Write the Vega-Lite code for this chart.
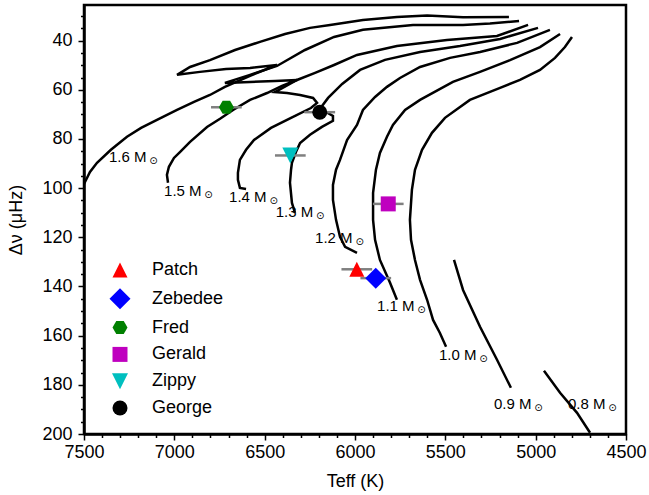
{
  "$schema": "https://vega.github.io/schema/vega-lite/v6.json",
  "width": 542,
  "height": 429,
  "autosize": "none",
  "padding": {"left": 84, "top": 5, "right": 23, "bottom": 61},
  "config": {
    "font": "Liberation Sans",
    "view": {"stroke": "black", "strokeWidth": 2.5}
  },
  "datasets": {
    "tracks": [
      {"m":"1.6","i":0,"T":7500,"v":98.3},{"m":"1.6","i":1,"T":7467,"v":93.4},{"m":"1.6","i":2,"T":7428,"v":89.7},{"m":"1.6","i":3,"T":7351,"v":84.4},{"m":"1.6","i":4,"T":7262,"v":79.1},{"m":"1.6","i":5,"T":7184,"v":75.5},{"m":"1.6","i":6,"T":7096,"v":72.2},{"m":"1.6","i":7,"T":6985,"v":68.2},{"m":"1.6","i":8,"T":6891,"v":64.9},{"m":"1.6","i":9,"T":6803,"v":62.1},{"m":"1.6","i":10,"T":6720,"v":58.8},{"m":"1.6","i":11,"T":6581,"v":54.3},{"m":"1.6","i":12,"T":6432,"v":49.9},{"m":"1.6","i":13,"T":6581,"v":51.1},{"m":"1.6","i":14,"T":6714,"v":51.5},{"m":"1.6","i":15,"T":6858,"v":52.7},{"m":"1.6","i":16,"T":6985,"v":53.9},{"m":"1.6","i":17,"T":6913,"v":50.7},{"m":"1.6","i":18,"T":6803,"v":47.9},{"m":"1.6","i":19,"T":6664,"v":43.8},{"m":"1.6","i":20,"T":6526,"v":40.5},{"m":"1.6","i":21,"T":6387,"v":37.3},{"m":"1.6","i":22,"T":6249,"v":34.8},{"m":"1.6","i":23,"T":6138,"v":33.6},{"m":"1.6","i":24,"T":5956,"v":31.6},{"m":"1.6","i":25,"T":5768,"v":30.4},{"m":"1.6","i":26,"T":5601,"v":29.8},{"m":"1.6","i":27,"T":5402,"v":30.5},{"m":"1.6","i":28,"T":5148,"v":30.4},
      {"m":"1.5","i":0,"T":7035,"v":97.8},{"m":"1.5","i":1,"T":7041,"v":94.6},{"m":"1.5","i":2,"T":7030,"v":91.3},{"m":"1.5","i":3,"T":7002,"v":87.7},{"m":"1.5","i":4,"T":6969,"v":85.3},{"m":"1.5","i":5,"T":6913,"v":81.2},{"m":"1.5","i":6,"T":6819,"v":75.1},{"m":"1.5","i":7,"T":6747,"v":71.8},{"m":"1.5","i":8,"T":6675,"v":68.2},{"m":"1.5","i":9,"T":6581,"v":64.1},{"m":"1.5","i":10,"T":6487,"v":61.3},{"m":"1.5","i":11,"T":6404,"v":58.4},{"m":"1.5","i":12,"T":6321,"v":56.0},{"m":"1.5","i":13,"T":6443,"v":56.4},{"m":"1.5","i":14,"T":6581,"v":56.8},{"m":"1.5","i":15,"T":6720,"v":57.2},{"m":"1.5","i":16,"T":6581,"v":53.9},{"m":"1.5","i":17,"T":6432,"v":50.3},{"m":"1.5","i":18,"T":6277,"v":43.8},{"m":"1.5","i":19,"T":6116,"v":38.5},{"m":"1.5","i":20,"T":5956,"v":35.6},{"m":"1.5","i":21,"T":5679,"v":33.6},{"m":"1.5","i":22,"T":5402,"v":33.6},{"m":"1.5","i":23,"T":5253,"v":33.0},{"m":"1.5","i":24,"T":5092,"v":32.0},
      {"m":"1.4","i":0,"T":6603,"v":100.3},{"m":"1.4","i":1,"T":6637,"v":99.9},{"m":"1.4","i":2,"T":6648,"v":96.6},{"m":"1.4","i":3,"T":6648,"v":93.8},{"m":"1.4","i":4,"T":6637,"v":88.5},{"m":"1.4","i":5,"T":6603,"v":84.4},{"m":"1.4","i":6,"T":6559,"v":80.4},{"m":"1.4","i":7,"T":6465,"v":75.5},{"m":"1.4","i":8,"T":6354,"v":71.4},{"m":"1.4","i":9,"T":6244,"v":67.4},{"m":"1.4","i":10,"T":6210,"v":65.3},{"m":"1.4","i":11,"T":6232,"v":63.3},{"m":"1.4","i":12,"T":6304,"v":62.1},{"m":"1.4","i":13,"T":6376,"v":61.3},{"m":"1.4","i":14,"T":6443,"v":60.9},{"m":"1.4","i":15,"T":6321,"v":56.0},{"m":"1.4","i":16,"T":6221,"v":53.1},{"m":"1.4","i":17,"T":6116,"v":49.9},{"m":"1.4","i":18,"T":5989,"v":45.8},{"m":"1.4","i":19,"T":5768,"v":42.2},{"m":"1.4","i":20,"T":5491,"v":39.7},{"m":"1.4","i":21,"T":5214,"v":38.1},{"m":"1.4","i":22,"T":5042,"v":33.6},
      {"m":"1.3","i":0,"T":6332,"v":110.1},{"m":"1.3","i":1,"T":6349,"v":106.0},{"m":"1.3","i":2,"T":6360,"v":97.8},{"m":"1.3","i":3,"T":6354,"v":92.5},{"m":"1.3","i":4,"T":6349,"v":89.7},{"m":"1.3","i":5,"T":6327,"v":85.3},{"m":"1.3","i":6,"T":6304,"v":81.6},{"m":"1.3","i":7,"T":6249,"v":78.3},{"m":"1.3","i":8,"T":6183,"v":75.1},{"m":"1.3","i":9,"T":6122,"v":72.6},{"m":"1.3","i":10,"T":6122,"v":70.6},{"m":"1.3","i":11,"T":6161,"v":69.0},{"m":"1.3","i":12,"T":6199,"v":68.2},{"m":"1.3","i":13,"T":6149,"v":63.3},{"m":"1.3","i":14,"T":6071,"v":57.6},{"m":"1.3","i":15,"T":5972,"v":51.9},{"m":"1.3","i":16,"T":5834,"v":47.8},{"m":"1.3","i":17,"T":5640,"v":44.6},{"m":"1.3","i":18,"T":5419,"v":42.2},{"m":"1.3","i":19,"T":5197,"v":39.3},{"m":"1.3","i":20,"T":4987,"v":34.8},
      {"m":"1.2","i":0,"T":5989,"v":126.3},{"m":"1.2","i":1,"T":6055,"v":123.9},{"m":"1.2","i":2,"T":6083,"v":119.8},{"m":"1.2","i":3,"T":6105,"v":112.9},{"m":"1.2","i":4,"T":6122,"v":104.8},{"m":"1.2","i":5,"T":6122,"v":98.7},{"m":"1.2","i":6,"T":6105,"v":92.5},{"m":"1.2","i":7,"T":6083,"v":88.5},{"m":"1.2","i":8,"T":6044,"v":80.4},{"m":"1.2","i":9,"T":5989,"v":74.3},{"m":"1.2","i":10,"T":5956,"v":68.2},{"m":"1.2","i":11,"T":5889,"v":62.9},{"m":"1.2","i":12,"T":5823,"v":58.8},{"m":"1.2","i":13,"T":5751,"v":55.2},{"m":"1.2","i":14,"T":5640,"v":50.7},{"m":"1.2","i":15,"T":5474,"v":47.0},{"m":"1.2","i":16,"T":5308,"v":44.6},{"m":"1.2","i":17,"T":5103,"v":40.9},{"m":"1.2","i":18,"T":4921,"v":35.6},
      {"m":"1.1","i":0,"T":5768,"v":145.4},{"m":"1.1","i":1,"T":5806,"v":138.5},{"m":"1.1","i":2,"T":5862,"v":129.2},{"m":"1.1","i":3,"T":5889,"v":121.0},{"m":"1.1","i":4,"T":5900,"v":112.9},{"m":"1.1","i":5,"T":5900,"v":101.9},{"m":"1.1","i":6,"T":5884,"v":92.5},{"m":"1.1","i":7,"T":5862,"v":85.7},{"m":"1.1","i":8,"T":5823,"v":79.1},{"m":"1.1","i":9,"T":5790,"v":74.3},{"m":"1.1","i":10,"T":5723,"v":68.2},{"m":"1.1","i":11,"T":5640,"v":64.1},{"m":"1.1","i":12,"T":5458,"v":56.8},{"m":"1.1","i":13,"T":5308,"v":52.7},{"m":"1.1","i":14,"T":5142,"v":47.9},{"m":"1.1","i":15,"T":4976,"v":42.6},{"m":"1.1","i":16,"T":4865,"v":37.3},
      {"m":"1.0","i":0,"T":5496,"v":164.5},{"m":"1.0","i":1,"T":5530,"v":158.9},{"m":"1.0","i":2,"T":5568,"v":153.6},{"m":"1.0","i":3,"T":5601,"v":145.4},{"m":"1.0","i":4,"T":5640,"v":137.3},{"m":"1.0","i":5,"T":5668,"v":129.2},{"m":"1.0","i":6,"T":5690,"v":121.0},{"m":"1.0","i":7,"T":5696,"v":112.9},{"m":"1.0","i":8,"T":5685,"v":100.7},{"m":"1.0","i":9,"T":5668,"v":92.5},{"m":"1.0","i":10,"T":5629,"v":84.4},{"m":"1.0","i":11,"T":5574,"v":77.5},{"m":"1.0","i":12,"T":5502,"v":71.4},{"m":"1.0","i":13,"T":5364,"v":64.1},{"m":"1.0","i":14,"T":5197,"v":59.2},{"m":"1.0","i":15,"T":5087,"v":56.0},{"m":"1.0","i":16,"T":4976,"v":51.9},{"m":"1.0","i":17,"T":4893,"v":47.0},{"m":"1.0","i":18,"T":4838,"v":42.6},{"m":"1.0","i":19,"T":4799,"v":38.5},
      {"m":"0.9","i":0,"T":5452,"v":129.2},{"m":"0.9","i":1,"T":5402,"v":141.4},{"m":"0.9","i":2,"T":5308,"v":156.4},{"m":"0.9","i":3,"T":5214,"v":169.8},{"m":"0.9","i":4,"T":5137,"v":181.2},
      {"m":"0.8","i":0,"T":4954,"v":174.3},{"m":"0.8","i":1,"T":4865,"v":183.2},{"m":"0.8","i":2,"T":4771,"v":191.4},{"m":"0.8","i":3,"T":4699,"v":199.5}
    ],
    "stars": [
      {"star":"Patch","T":5990,"Terr":85,"v":133.0},
      {"star":"Zebedee","T":5885,"Terr":85,"v":136.6},
      {"star":"Fred","T":6712,"Terr":85,"v":67.1},
      {"star":"Gerald","T":5816,"Terr":85,"v":106.4},
      {"star":"Zippy","T":6358,"Terr":85,"v":86.7},
      {"star":"George","T":6195,"Terr":85,"v":69.1}
    ],
    "labels": [
      {"lab":"1.6 M","T":7362,"v":87.2},
      {"lab":"1.5 M","T":7057,"v":101.1},
      {"lab":"1.4 M","T":6697,"v":103.7},
      {"lab":"1.3 M","T":6439,"v":109.9},
      {"lab":"1.2 M","T":6221,"v":120.3},
      {"lab":"1.1 M","T":5878,"v":147.8},
      {"lab":"1.0 M","T":5535,"v":167.8},
      {"lab":"0.9 M","T":5231,"v":187.8},
      {"lab":"0.8 M","T":4821,"v":187.8}
    ]
  },
  "resolve": {"axis": {"x": "independent", "y": "independent"}},
  "layer": [
    {
      "data": {"name": "tracks"},
      "mark": {"type": "line", "color": "black", "strokeWidth": 2.5, "clip": true},
      "encoding": {
        "x": {"field": "T", "type": "quantitative",
          "scale": {"domain": [4500, 7500], "reverse": true, "nice": false, "zero": false},
          "axis": {"values": [7500, 7000, 6500, 6000, 5500, 5000, 4500], "format": "d", "grid": false,
            "labelFontSize": 18, "labelColor": "black", "labelFlush": false, "labelOverlap": false, "labelPadding": 3,
            "tickColor": "black", "tickSize": 6, "tickWidth": 1.5,
            "domainColor": "black", "domainWidth": 2.5,
            "title": "Teff (K)", "titleFontSize": 18, "titleFontWeight": "normal", "titleColor": "black", "titlePadding": 11}},
        "y": {"field": "v", "type": "quantitative",
          "scale": {"domain": [25.5, 200], "reverse": true, "nice": false, "zero": false},
          "axis": {"values": [40, 60, 80, 100, 120, 140, 160, 180, 200], "grid": false,
            "labelFontSize": 18, "labelColor": "black", "labelPadding": 6, "labelOverlap": false,
            "tickColor": "black", "tickSize": 6, "tickWidth": 1.5,
            "domainColor": "black", "domainWidth": 2.5,
            "title": "Δν (μHz)", "titleFontSize": 18, "titleFontWeight": "normal", "titleColor": "black", "titlePadding": 16}},
        "detail": {"field": "m"},
        "order": {"field": "i", "type": "quantitative"}
      }
    },
    {
      "data": {"name": "stars"},
      "mark": {"type": "errorbar", "color": "#808080", "thickness": 2.5},
      "encoding": {
        "x": {"field": "T", "type": "quantitative", "scale": {"domain": [4500, 7500], "reverse": true, "nice": false, "zero": false}, "axis": null},
        "xError": {"field": "Terr"},
        "y": {"field": "v", "type": "quantitative", "scale": {"domain": [25.5, 200], "reverse": true, "nice": false, "zero": false}, "axis": null}
      }
    },
    {
      "data": {"name": "stars"},
      "mark": {"type": "point", "filled": true, "opacity": 1, "strokeWidth": 0, "size": 225},
      "encoding": {
        "x": {"field": "T", "type": "quantitative", "scale": {"domain": [4500, 7500], "reverse": true, "nice": false, "zero": false}, "axis": null},
        "y": {"field": "v", "type": "quantitative", "scale": {"domain": [25.5, 200], "reverse": true, "nice": false, "zero": false}, "axis": null},
        "color": {"field": "star", "type": "nominal",
          "scale": {"domain": ["Patch", "Zebedee", "Fred", "Gerald", "Zippy", "George"],
                    "range": ["#ff0000", "#0000ff", "#008000", "#bf00bf", "#00bfbf", "#000000"]},
          "legend": {"orient": "none", "legendX": 27, "legendY": 256, "title": null, "padding": 0,
            "labelFontSize": 18, "labelColor": "black", "labelOffset": 23, "symbolSize": 225,
            "symbolStrokeWidth": 0, "rowPadding": 8.8}},
        "shape": {"field": "star", "type": "nominal",
          "scale": {"domain": ["Patch", "Zebedee", "Fred", "Gerald", "Zippy", "George"],
                    "range": ["M0,-1L1,1L-1,1Z", "M-1.4,0L0,-1.4L1.4,0L0,1.4Z", "M-1,0L-0.5,-0.866L0.5,-0.866L1,0L0.5,0.866L-0.5,0.866Z", "square", "M-1.07,-1.07L1.07,-1.07L0,1.07Z", "circle"]}}
      }
    },
    {
      "data": {"name": "labels"},
      "mark": {"type": "text", "align": "left", "baseline": "middle", "fontSize": 15, "color": "black"},
      "encoding": {
        "x": {"field": "T", "type": "quantitative", "scale": {"domain": [4500, 7500], "reverse": true, "nice": false, "zero": false},
          "axis": {"orient": "bottom", "values": [7400, 7300, 7200, 7100, 6900, 6800, 6700, 6600, 6400, 6300, 6200, 6100, 5900, 5800, 5700, 5600, 5400, 5300, 5200, 5100, 4900, 4800, 4700, 4600],
            "labels": false, "domain": false, "grid": false, "title": null, "tickColor": "black", "tickSize": 3.5, "tickWidth": 1.5}},
        "y": {"field": "v", "type": "quantitative", "scale": {"domain": [25.5, 200], "reverse": true, "nice": false, "zero": false},
          "axis": {"orient": "left", "values": [30, 35, 45, 50, 55, 65, 70, 75, 85, 90, 95, 105, 110, 115, 125, 130, 135, 145, 150, 155, 165, 170, 175, 185, 190, 195],
            "labels": false, "domain": false, "grid": false, "title": null, "tickColor": "black", "tickSize": 3.5, "tickWidth": 1.5}},
        "text": {"field": "lab"}
      }
    },
    {
      "data": {"name": "labels"},
      "mark": {"type": "text", "align": "center", "baseline": "middle", "fontSize": 10, "dx": 44.5, "dy": 4, "color": "black", "font": "DejaVu Sans"},
      "encoding": {
        "x": {"field": "T", "type": "quantitative", "scale": {"domain": [4500, 7500], "reverse": true, "nice": false, "zero": false}, "axis": null},
        "y": {"field": "v", "type": "quantitative", "scale": {"domain": [25.5, 200], "reverse": true, "nice": false, "zero": false}, "axis": null},
        "text": {"value": "⊙"}
      }
    }
  ]
}
